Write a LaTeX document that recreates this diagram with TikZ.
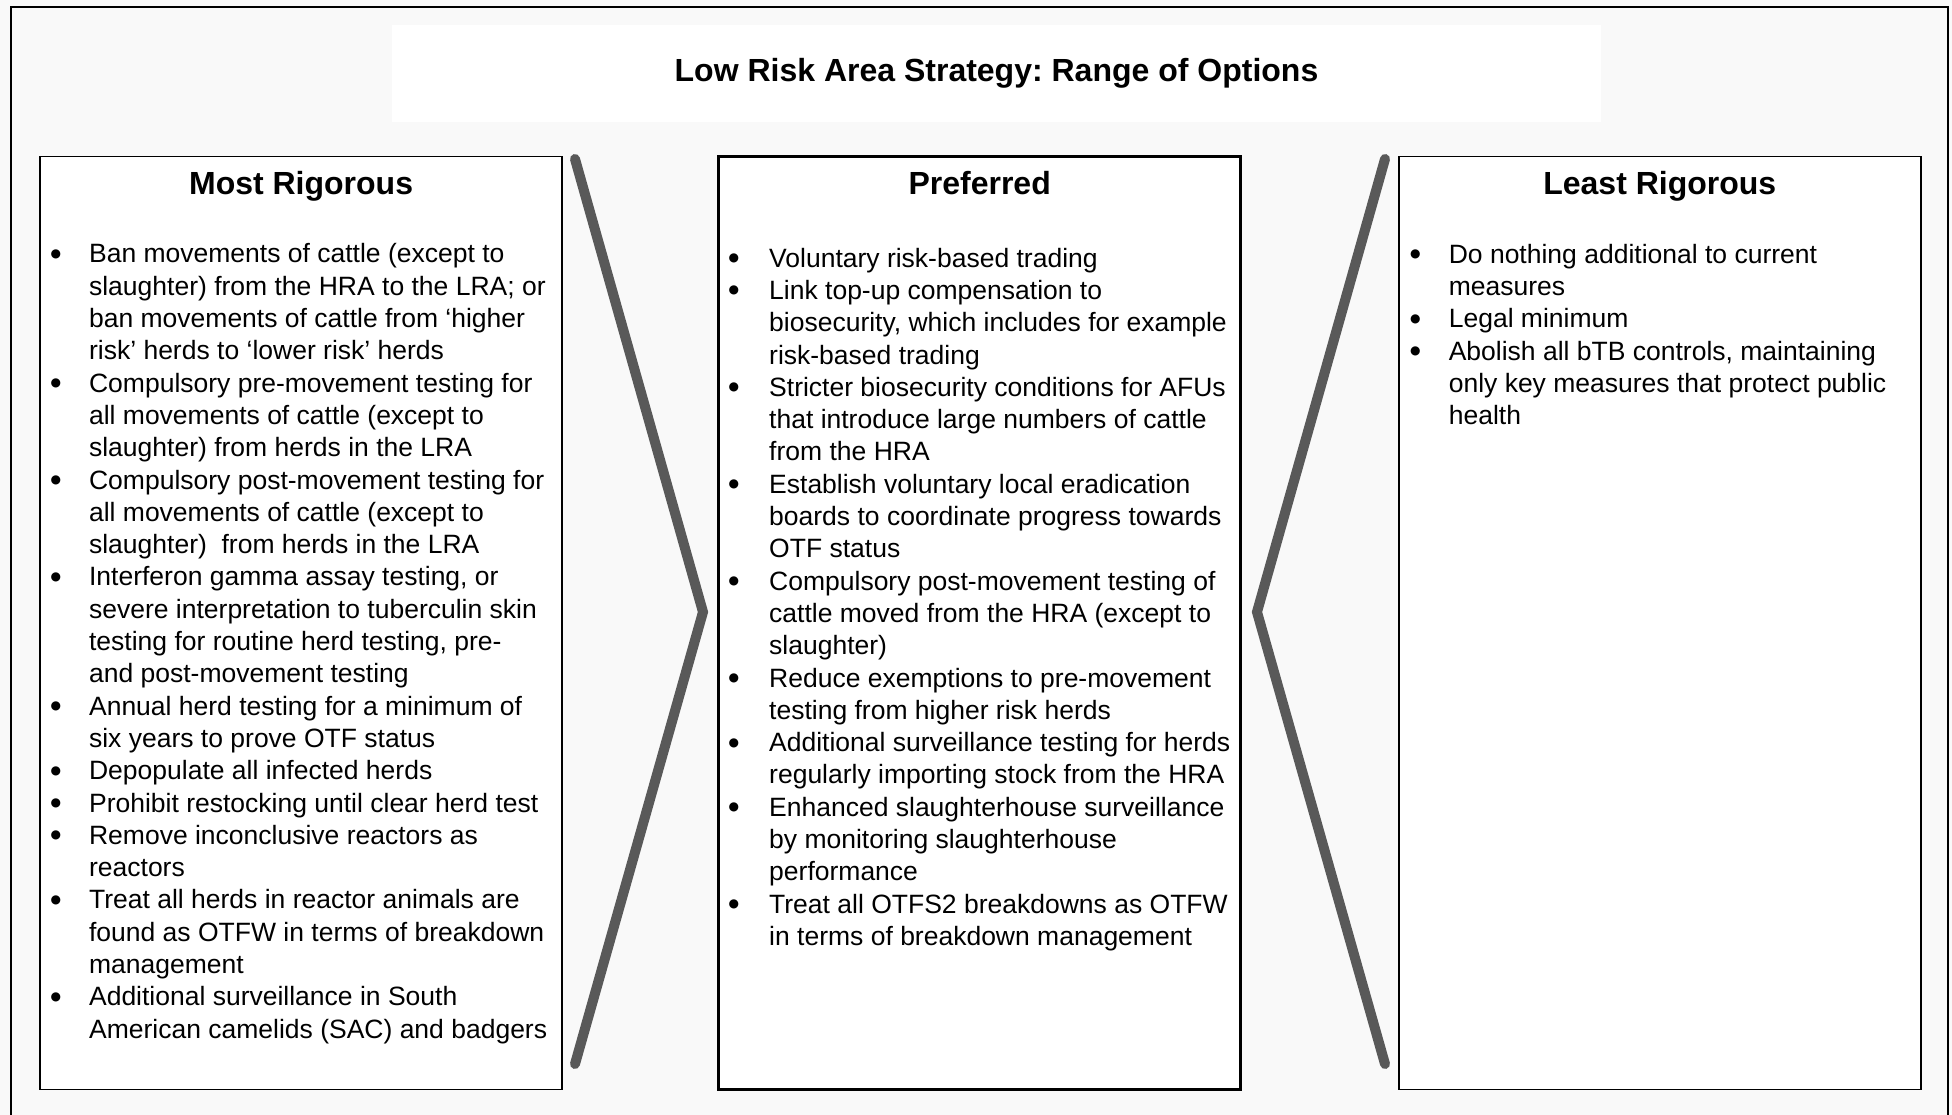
\documentclass[tikz,border=0pt]{standalone}
\usepackage{fontspec}
\setmainfont{Liberation Sans}
\newfontfamily\bulletfont{DejaVu Sans}
\usetikzlibrary{positioning}
\definecolor{pagegray}{HTML}{F9F9F9}
\definecolor{chevrongray}{HTML}{595959}
\frenchspacing
\newcommand{\bodyfont}{\fontsize{26.5}{32.3}\selectfont}
\newcommand{\bul}{\raisebox{5.5pt}{\bulletfont\fontsize{12}{12}\selectfont ●}}
\newcommand{\optionlist}[2]{\begin{tabular}[t]{@{}p{#1}@{}l@{}}#2\end{tabular}}
\begin{document}
\begin{tikzpicture}[x=1pt, y=-1pt]
  \tikzstyle{panel}=[draw=black, fill=white, line width=1.6pt, minimum width=522, minimum height=933, inner sep=0pt]
  \tikzstyle{preferred}=[panel, line width=2.6pt]
  \tikzstyle{heading}=[font=\fontsize{32}{38}\selectfont\bfseries, anchor=base, inner sep=0pt]
  \tikzstyle{options}=[font=\bodyfont, anchor=base west, inner sep=0pt]
  \tikzstyle{chevron}=[draw=chevrongray, line width=10pt, line cap=round, line join=miter]
  % page and frame
  \useasboundingbox (0,0) rectangle (1952,1115);
  \fill[pagegray] (0,0) rectangle (1952,1115);
  \draw[line width=2.5pt] (11,1120) -- (11,7) -- (1948,7) -- (1948,1120);
  % title
  \node[fill=white, minimum width=1209, minimum height=97, inner sep=0pt,
        font=\fontsize{32}{38}\selectfont\bfseries] (title) at (996.5,73.5)
        {\raisebox{-2.5pt}{Low Risk Area Strategy: Range of Options}};
  % three panels
  \node[panel, anchor=north west] (most) at (39.3,155.7) {};
  \node[preferred, right=154.5 of most] (pref) {};
  \node[panel, right=156 of pref] (least) {};
  \node[heading] (mosthead) at ([yshift=-38.5]most.north) {Most Rigorous};
  \node[heading] (prefhead) at ([yshift=-39.5]pref.north) {Preferred};
  \node[heading] (leasthead) at ([yshift=-38.5]least.north) {Least Rigorous};
  % chevrons
  \draw[chevron] (575,159) -- (703,612) -- (575,1064);
  \draw[chevron] (1385,159) -- (1257,612) -- (1385,1064);
  % option lists
  \node[options] (mostlist) at ([xshift=11, yshift=-107.3]most.north west) {\optionlist{38.6pt}{%
    \bul & Ban movements of cattle (except to\\
    & slaughter) from the HRA to the LRA; or\\
    & ban movements of cattle from ‘higher\\
    & risk’ herds to ‘lower risk’ herds\\
    \bul & Compulsory pre-movement testing for\\
    & all movements of cattle (except to\\
    & slaughter) from herds in the LRA\\
    \bul & Compulsory post-movement testing for\\
    & all movements of cattle (except to\\
    & slaughter)\ \ from herds in the LRA\\
    \bul & Interferon gamma assay testing, or\\
    & severe interpretation to tuberculin skin\\
    & testing for routine herd testing, pre-\\
    & and post-movement testing\\
    \bul & Annual herd testing for a minimum of\\
    & six years to prove OTF status\\
    \bul & Depopulate all infected herds\\
    \bul & Prohibit restocking until clear herd test\\
    \bul & Remove inconclusive reactors as\\
    & reactors\\
    \bul & Treat all herds in reactor animals are\\
    & found as OTFW in terms of breakdown\\
    & management\\
    \bul & Additional surveillance in South\\
    & American camelids (SAC) and badgers}};
  \node[options] (preflist) at ([xshift=11, yshift=-112]pref.north west) {\optionlist{40.6pt}{%
    \bul & Voluntary risk-based trading\\
    \bul & Link top-up compensation to\\
    & biosecurity, which includes for example\\
    & risk-based trading\\
    \bul & Stricter biosecurity conditions for AFUs\\
    & that introduce large numbers of cattle\\
    & from the HRA\\
    \bul & Establish voluntary local eradication\\
    & boards to coordinate progress towards\\
    & OTF status\\
    \bul & Compulsory post-movement testing of\\
    & cattle moved from the HRA (except to\\
    & slaughter)\\
    \bul & Reduce exemptions to pre-movement\\
    & testing from higher risk herds\\
    \bul & Additional surveillance testing for herds\\
    & regularly importing stock from the HRA\\
    \bul & Enhanced slaughterhouse surveillance\\
    & by monitoring slaughterhouse\\
    & performance\\
    \bul & Treat all OTFS2 breakdowns as OTFW\\
    & in terms of breakdown management}};
  \node[options] (leastlist) at ([xshift=12, yshift=-107.5]least.north west) {\optionlist{38.6pt}{%
    \bul & Do nothing additional to current\\
    & measures\\
    \bul & Legal minimum\\
    \bul & Abolish all bTB controls, maintaining\\
    & only key measures that protect public\\
    & health}};
\end{tikzpicture}
\end{document}
